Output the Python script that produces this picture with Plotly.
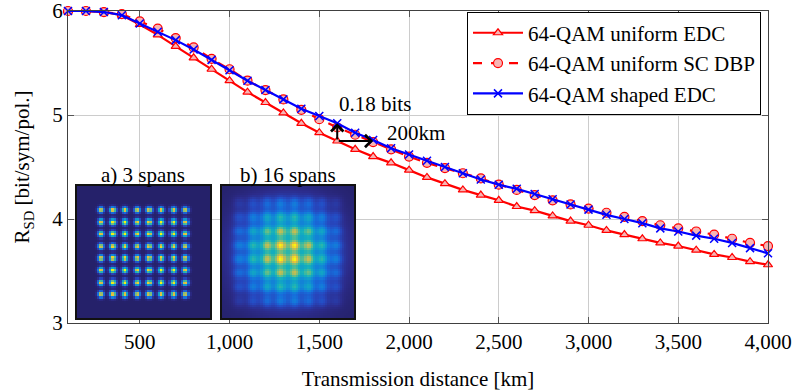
import numpy as np
import plotly.graph_objects as go

# ---------------- data ----------------
distance_km = list(range(100, 4001, 100))

uniform_edc = [6.00, 6.00, 5.99, 5.96, 5.87, 5.77, 5.66, 5.55, 5.44, 5.33,
               5.22, 5.12, 5.02, 4.92, 4.83, 4.75, 4.67, 4.60, 4.54, 4.47,
               4.40, 4.34, 4.28, 4.23, 4.18, 4.12, 4.08, 4.03, 3.98, 3.94,
               3.89, 3.85, 3.81, 3.77, 3.74, 3.70, 3.66, 3.63, 3.59, 3.56]

uniform_sc_dbp = [6.00, 6.00, 5.99, 5.97, 5.90, 5.83, 5.74, 5.65, 5.54, 5.44,
                  5.33, 5.24, 5.15, 5.05, 4.96, 4.88, 4.81, 4.74, 4.67, 4.60,
                  4.54, 4.49, 4.44, 4.39, 4.33, 4.28, 4.23, 4.18, 4.14, 4.10,
                  4.06, 4.02, 3.98, 3.94, 3.91, 3.88, 3.85, 3.81, 3.77, 3.74]

shaped_edc = [6.00, 6.00, 5.99, 5.96, 5.88, 5.80, 5.72, 5.63, 5.53, 5.43,
              5.33, 5.24, 5.15, 5.06, 4.99, 4.92, 4.83, 4.76, 4.68, 4.62,
              4.56, 4.50, 4.44, 4.38, 4.33, 4.29, 4.24, 4.19, 4.14, 4.09,
              4.04, 4.00, 3.96, 3.91, 3.88, 3.84, 3.81, 3.77, 3.72, 3.67]

series_names = ["64-QAM uniform EDC", "64-QAM uniform SC DBP", "64-QAM shaped EDC"]

x_tick_vals = [500, 1000, 1500, 2000, 2500, 3000, 3500, 4000]
y_tick_vals = [3, 4, 5, 6]

# inset constellations (64-QAM amplitude levels)
qam_levels = [-7, -5, -3, -1, 1, 3, 5, 7]
level_prob_16spans = [0.37, 0.60, 0.82, 0.96, 0.96, 0.82, 0.60, 0.37]
inset_titles = ["a) 3 spans", "b) 16 spans"]

# ---------------- styling ----------------
FONT = "Times New Roman, Liberation Serif, Tinos, DejaVu Serif, serif"
FS = 21
RED = "#ff0000"
BLUE = "#0000ff"
PINK = "#f7b4b4"

fig = go.Figure()

fig.add_trace(go.Scatter(
    x=distance_km, y=uniform_edc, name=series_names[0], mode="lines+markers",
    line=dict(color=RED, width=2.2),
    marker=dict(symbol="triangle-up", size=8, color=PINK, line=dict(color=RED, width=1.2)),
    cliponaxis=False))
fig.add_trace(go.Scatter(
    x=distance_km, y=uniform_sc_dbp, name=series_names[1], mode="lines+markers",
    line=dict(color=RED, width=2.2, dash="dash"),
    marker=dict(symbol="circle", size=9, color=PINK, line=dict(color=RED, width=1.2)),
    cliponaxis=False))
fig.add_trace(go.Scatter(
    x=distance_km, y=shaped_edc, name=series_names[2], mode="lines+markers",
    line=dict(color=BLUE, width=2.2),
    marker=dict(symbol="x-thin", size=8, color=BLUE, line=dict(color=BLUE, width=1.5)),
    cliponaxis=False))

# ---------------- insets (constellation histograms) ----------------
parula = [[0.0, "#25216a"], [0.08, "#2c2c8c"], [0.2, "#2648c0"], [0.33, "#1570dc"],
          [0.45, "#1095d0"], [0.57, "#14b0bc"], [0.68, "#4fbd94"], [0.8, "#a8bd62"],
          [0.9, "#e8bd3e"], [1.0, "#f9f50f"]]

lv = np.array(qam_levels, dtype=float)

ca = np.linspace(-11, 11, 64)
XA, YA = np.meshgrid(ca, ca)
za = np.zeros_like(XA)
for xi in lv:
    for yi in lv:
        za += np.exp(-((XA - xi) ** 2 + (YA - yi) ** 2) / (2 * 0.36 ** 2))
za = za / za.max()

cb = np.linspace(-9.5, 9.5, 64)
XB, YB = np.meshgrid(cb, cb)
zb = np.zeros_like(XB)
pw = np.array(level_prob_16spans)
for i, xi in enumerate(lv):
    for j, yi in enumerate(lv):
        zb += 0.6 * pw[i] * pw[j] * np.exp(-((XB - xi) ** 2 + (YB - yi) ** 2) / (2 * 0.6 ** 2))
zb += 0.45 * np.exp(-(XB ** 2 + YB ** 2) / (2 * 4.8 ** 2))
zb = zb / zb.max()

fig.add_trace(go.Heatmap(x=ca, y=ca, z=za, xaxis="x2", yaxis="y2", colorscale=parula,
                         zmin=0, zmax=1, showscale=False, hoverinfo="skip", showlegend=False))
fig.add_trace(go.Heatmap(x=cb, y=cb, z=zb, xaxis="x3", yaxis="y3", colorscale=parula,
                         zmin=0, zmax=1, showscale=False, hoverinfo="skip", showlegend=False))

inset_axis = dict(showticklabels=False, showgrid=False, zeroline=False, ticks="",
                  showline=True, mirror=True, linecolor="#111111", linewidth=2,
                  automargin=False)

XA_DOM = [0.0124, 0.2029]
XB_DOM = [0.2196, 0.4086]
Y_DOM = [0.015, 0.44]

fig.update_layout(
    xaxis2=dict(domain=XA_DOM, anchor="y2", range=[ca[0], ca[-1]], **inset_axis),
    yaxis2=dict(domain=Y_DOM, anchor="x2", range=[ca[0], ca[-1]], **inset_axis),
    xaxis3=dict(domain=XB_DOM, anchor="y3", range=[cb[0], cb[-1]], **inset_axis),
    yaxis3=dict(domain=Y_DOM, anchor="x3", range=[cb[0], cb[-1]], **inset_axis),
)

annotations = [
    dict(text=inset_titles[0], x=sum(XA_DOM) / 2, y=Y_DOM[1], xref="paper", yref="paper",
         xanchor="center", yanchor="bottom", showarrow=False,
         font=dict(family=FONT, size=FS, color="black"), yshift=-3),
    dict(text=inset_titles[1], x=sum(XB_DOM) / 2, y=Y_DOM[1], xref="paper", yref="paper",
         xanchor="center", yanchor="bottom", showarrow=False,
         font=dict(family=FONT, size=FS, color="black"), yshift=-3),
    # 0.18 bits vertical arrow
    dict(x=1600, y=uniform_edc[15] + 0.17, ax=1600, ay=uniform_edc[15], xref="x", yref="y",
         axref="x", ayref="y", text="", showarrow=True, arrowhead=4, arrowsize=1.2,
         arrowwidth=2, arrowcolor="black", standoff=0, startstandoff=0),
    # 200 km horizontal arrow
    dict(x=1800, y=uniform_edc[15], ax=1600, ay=uniform_edc[15], xref="x", yref="y",
         axref="x", ayref="y", text="", showarrow=True, arrowhead=4, arrowsize=1.2,
         arrowwidth=2, arrowcolor="black", standoff=0, startstandoff=0),
    dict(text="0.18 bits", x=1600, y=5.11, xref="x", yref="y", xanchor="left", yanchor="middle",
         showarrow=False, font=dict(family=FONT, size=FS, color="black")),
    dict(text="200km", x=1866, y=4.83, xref="x", yref="y", xanchor="left", yanchor="middle",
         showarrow=False, font=dict(family=FONT, size=FS, color="black")),
]

fig.update_layout(
    width=796, height=391,
    margin=dict(l=68, r=28, t=11, b=68, autoexpand=False),
    paper_bgcolor="white", plot_bgcolor="white",
    font=dict(family=FONT, size=FS, color="black"),
    showlegend=True,
    legend=dict(x=0.99, y=0.998, xanchor="right", yanchor="top",
                bgcolor="white", bordercolor="black", borderwidth=1,
                font=dict(family=FONT, size=FS, color="black"),
                itemwidth=50, tracegroupgap=0),
    xaxis=dict(range=[100, 4000], tickvals=x_tick_vals, tickformat=",", automargin=False,
               ticklabeloverflow="allow",
               showgrid=True, gridcolor="#cccccc", gridwidth=1, zeroline=False,
               showline=True, linecolor="#404040", linewidth=1.3, mirror="ticks",
               ticks="inside", ticklen=6, tickcolor="#555555",
               title=dict(text="Transmission distance [km]", standoff=17,
                          font=dict(family=FONT, size=FS)),
               tickfont=dict(family=FONT, size=FS)),
    yaxis=dict(range=[3, 6], tickvals=y_tick_vals, automargin=False,
               ticklabeloverflow="allow",
               showgrid=True, gridcolor="#cccccc", gridwidth=1, zeroline=False,
               showline=True, linecolor="#404040", linewidth=1.3, mirror="ticks",
               ticks="inside", ticklen=6, tickcolor="#555555",
               title=dict(text="R<sub>SD</sub> [bit/sym/pol.]", standoff=16,
                          font=dict(family=FONT, size=FS)),
               tickfont=dict(family=FONT, size=FS)),
    annotations=annotations,
)

fig.write_html("out.html", config={"displayModeBar": False},
               post_script="document.body.style.margin='0px';")
